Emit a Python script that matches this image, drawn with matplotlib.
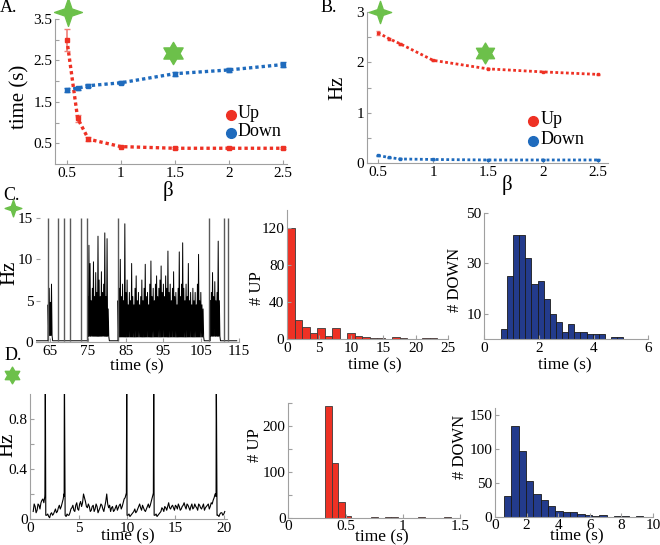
import numpy as np
import matplotlib
matplotlib.use('Agg')
import matplotlib.pyplot as plt
from matplotlib.path import Path
from matplotlib.lines import Line2D

plt.rcParams['font.family'] = ['Liberation Serif', 'DejaVu Serif']

# ---------------- data ----------------
beta = [0.5, 0.6, 0.7, 1.0, 1.5, 2.0, 2.5]
dur_up = [3.0, 1.1, 0.6, 0.42, 0.38, 0.38, 0.38]
dur_up_err = [0.27, 0.08, 0.04, 0.02, 0.02, 0.02, 0.02]
dur_down = [1.79, 1.83, 1.89, 1.96, 2.18, 2.27, 2.40]
dur_down_err = [0.04, 0.04, 0.04, 0.04, 0.05, 0.05, 0.06]

rate_up = [2.59, 2.47, 2.37, 2.04, 1.87, 1.81, 1.76]
rate_up_err = [0.04, 0.02, 0.02, 0.01, 0.01, 0.01, 0.01]
rate_down = [0.15, 0.11, 0.08, 0.07, 0.06, 0.06, 0.06]
rate_down_err = [0.01, 0.01, 0.01, 0.01, 0.01, 0.01, 0.01]

legend_labels = ['Up', 'Down']

# C: firing-rate trace (beta = 0.5)
c_baseline = 0.15
c_transient_t = [64.4, 67.2, 68.8, 70.3, 73.2, 74.7, 82.9, 107.1, 110.9, 112.1]
c_seg_start = [64.5, 75.0, 83.0, 107.4]
c_seg_floor = [0.8, 0.7, 0.6, 0.7]
c_step = 0.3
c_seg_peaks = [
    [4.5, 6.5, 4.8, 7.0],
    [5.5, 11.7, 9.5, 5.0, 6.5, 9.7, 5.5, 8.4, 6.0, 12.8, 7.5, 5.5, 8.5, 6.0,
     7.0, 13.2, 5.5, 12.5, 4.0],
    [5.0, 6.5, 10.0, 5.5, 7.0, 5.0, 14.3, 6.0, 7.5, 4.5, 6.0, 5.0, 9.5, 5.5,
     4.5, 6.5, 8.0, 5.0, 6.0, 4.5, 5.5, 7.5, 5.0, 6.5, 9.4, 5.5, 6.0, 4.5,
     7.0, 9.8, 5.5, 6.5, 5.0, 7.0, 8.0, 5.5, 6.5, 7.5, 9.2, 6.0, 7.0, 5.5,
     8.0, 6.5, 11.0, 6.0, 7.0, 5.0, 6.5, 8.5, 5.5, 6.0, 4.5, 6.5, 10.9, 5.5,
     7.0, 12.0, 6.5, 5.0, 7.0, 5.5, 9.5, 5.0, 6.0, 4.5, 6.5, 5.0, 6.0, 4.5,
     7.0, 10.6, 5.0, 6.0, 4.5, 4.0],
    [5.0, 6.0, 8.4, 5.5, 7.3, 5.0, 6.0, 12.2, 5.0],
]
c_xticks = [65, 75, 85, 95, 105, 115]

# C: histograms
c_up_bin0, c_up_binw = 0.0, 1.17
c_up_counts = [120, 21, 13, 7, 12, 4, 12, 0, 7, 4, 2, 1, 1, 0, 2, 1, 0, 0, 1, 1]
c_dn_bin0, c_dn_binw = 0.6, 0.2245
c_dn_counts = [4, 25, 41, 41, 32, 22, 23, 16, 10, 7, 3, 6, 3, 3, 2, 2, 2, 0, 1, 1]

# D: firing-rate trace (beta = 1.5), samples every 0.2 s plus in-between samples
d_t0, d_dt = 0.3, 0.2
d_vals = [0.06, 0.10, 0.07, 0.11, 0.13, 0.16, 0.18, 0.03, 0.02, 0.04,
          0.03, 0.06, 0.05, 0.09, 0.08, 0.13, 0.18, 0.02, 0.03, 0.05,
          0.09, 0.07, 0.11, 0.08, 0.12, 0.10, 0.20, 0.14, 0.09, 0.10,
          0.07, 0.11, 0.08, 0.10, 0.07, 0.12, 0.08, 0.10, 0.20, 0.09,
          0.06, 0.10, 0.07, 0.11, 0.09, 0.12, 0.10, 0.16, 0.20, 0.03,
          0.02, 0.04, 0.06, 0.05, 0.08, 0.12, 0.07, 0.09, 0.06, 0.10,
          0.09, 0.14, 0.20, 0.03, 0.02, 0.04, 0.06, 0.08, 0.10, 0.07,
          0.13, 0.08, 0.11, 0.07, 0.10, 0.12, 0.07, 0.10, 0.13, 0.08,
          0.11, 0.07, 0.12, 0.09, 0.10, 0.07, 0.11, 0.08, 0.12, 0.09,
          0.11, 0.08, 0.13, 0.15, 0.20, 0.03, 0.02, 0.05, 0.03, 0.06]
d_vals_mid = [0.12, 0.05, 0.12, 0.08, 0.15, 0.13, 0.03, 0.04, 0.01, 0.05,
              0.04, 0.08, 0.06, 0.11, 0.10, 0.16, 0.03, 0.04, 0.03, 0.08,
              0.11, 0.06, 0.13, 0.07, 0.14, 0.13, 0.17, 0.10, 0.12, 0.06,
              0.10, 0.06, 0.12, 0.05, 0.09, 0.11, 0.06, 0.14, 0.12, 0.11,
              0.09, 0.06, 0.09, 0.07, 0.11, 0.08, 0.13, 0.17, 0.03, 0.04,
              0.03, 0.05, 0.08, 0.06, 0.10, 0.09, 0.11, 0.07, 0.08, 0.12,
              0.11, 0.17, 0.03, 0.04, 0.03, 0.05, 0.09, 0.06, 0.09, 0.10,
              0.09, 0.10, 0.09, 0.11, 0.08, 0.10, 0.08, 0.11, 0.10, 0.12,
              0.09, 0.10, 0.08, 0.12, 0.09, 0.12, 0.09, 0.10, 0.07, 0.10,
              0.12, 0.10, 0.12, 0.17, 0.18, 0.03, 0.04, 0.05, 0.04]
d_spike_t = [1.55, 3.52, 9.97, 12.76, 19.22]

# D: histograms
d_up_bin0, d_up_binw = 0.32, 0.058
d_up_counts = [242, 118, 35, 4, 0, 0, 0, 1, 0, 1, 2, 0, 0, 0, 1, 0, 0, 0, 1, 0]
d_dn_bin0, d_dn_binw = 0.57, 0.464
d_dn_counts = [31, 134, 96, 53, 33, 25, 16, 8, 7, 7, 4, 2, 1, 2, 0, 1, 1, 0, 1, 0]

# ---------------- style ----------------
RED = '#ee3124'
RED_ERR = '#f07f78'
BLUE = '#1f6bbd'
NAVY = '#233b8c'
GREEN = '#6cc04a'
SPINE = '#a0a0a0'
TICKFS = 11

W, H = 660, 545
fig = plt.figure(figsize=(6.6, 5.45), dpi=100)


def rect(l, t, r, b):
    return [l / W, 1 - b / H, (r - l) / W, (b - t) / H]


def fp(x, y):
    return x / W, 1 - y / H


def style(ax, left=True, bottom=True):
    for s in ['top', 'right']:
        ax.spines[s].set_visible(False)
    ax.spines['left'].set_visible(left)
    ax.spines['bottom'].set_visible(bottom)
    for s in ['left', 'bottom']:
        ax.spines[s].set_color(SPINE)
        ax.spines[s].set_linewidth(0.8)
    ax.tick_params(direction='in', length=3, width=0.8, color=SPINE,
                   labelsize=TICKFS, pad=2)
    ax.patch.set_alpha(0)


def ftext(x, y, s, size, rot=0, ha='center', va='center'):
    fig.text(*fp(x, y), s, fontsize=size, rotation=rot, ha=ha, va=va)


def fmarker(x, y, marker, ms, color):
    fig.add_artist(Line2D([fp(x, y)[0]], [fp(x, y)[1]], transform=fig.transFigure,
                          marker=marker, ms=ms, color=color, mec=color, ls='none',
                          zorder=10))


star4 = Path.unit_regular_star(4, 0.36)
star6 = Path.unit_regular_star(6, 0.58)

# ---------------- panel A ----------------
axA = fig.add_axes(rect(55, 19, 287, 164))
style(axA)
axA.errorbar(beta, dur_up, yerr=dur_up_err, color=RED, ls=(0, (1, 0.9)), lw=2.4,
             marker='s', ms=2.5, ecolor=RED_ERR, elinewidth=1.2, capsize=2)
axA.errorbar(beta, dur_down, yerr=dur_down_err, color=BLUE, ls=(0, (1, 0.9)), lw=2.4,
             marker='s', ms=2.5, ecolor=BLUE, elinewidth=1.2, capsize=2)
axA.set_xlim(0.39, 2.54)
axA.set_ylim(0, 3.5)
axA.set_xticks([0.5, 1, 1.5, 2, 2.5], ['0.5', '1', '1.5', '2', '2.5'])
axA.set_yticks([0.5, 1, 1.5, 2, 2.5, 3, 3.5], ['0.5', '', '1.5', '', '2.5', '', '3.5'])
ftext(20, 97, 'time (s)', 15, rot=90)
ftext(168, 191, 'β', 15)
ftext(0, 8, 'A.', 13, ha='left')
fmarker(68, 12, star4, 20, GREEN)
fmarker(173, 53, star6, 16, GREEN)
fmarker(231, 115, 'o', 7, RED)
fmarker(231, 133, 'o', 7, BLUE)
ftext(238, 114, legend_labels[0], 13, ha='left')
ftext(238, 132, legend_labels[1], 13, ha='left')

# ---------------- panel B ----------------
axB = fig.add_axes(rect(367, 12, 608, 163))
style(axB)
axB.errorbar(beta, rate_up, yerr=rate_up_err, color=RED, ls=(0, (1, 0.9)), lw=2.0,
             marker='s', ms=2, ecolor=RED_ERR, elinewidth=1.0, capsize=1.5)
axB.errorbar(beta, rate_down, yerr=rate_down_err, color=BLUE, ls=(0, (1, 0.9)), lw=2.0,
             marker='s', ms=2, ecolor=BLUE, elinewidth=1.0, capsize=1.5)
axB.set_xlim(0.4, 2.59)
axB.set_ylim(0, 3)
axB.set_xticks([0.5, 1, 1.5, 2, 2.5], ['0.5', '1', '1.5', '2', '2.5'])
axB.set_yticks([0, 0.5, 1, 1.5, 2, 2.5, 3], ['0', '', '1', '', '2', '', '3'])
ftext(338, 88, 'Hz', 15, rot=90)
ftext(507, 185, 'β', 15)
ftext(321, 8, 'B.', 13, ha='left')
fmarker(380, 12, star4, 16, GREEN)
fmarker(485, 53, star6, 15, GREEN)
fmarker(533, 121, 'o', 7, RED)
fmarker(533, 141, 'o', 7, BLUE)
ftext(541, 120, legend_labels[0], 13, ha='left')
ftext(541, 140, legend_labels[1], 13, ha='left')

# ---------------- panel C trace ----------------
axC = fig.add_axes(rect(36, 218, 239, 342))
style(axC, left=False)
pts = [(61.4, c_baseline), (114.4, c_baseline)]
for s, pk, fl in zip(c_seg_start, c_seg_peaks, c_seg_floor):
    pts.append((s - 0.02, c_baseline))
    for k, p in enumerate(pk):
        t = s + k * c_step
        pts.append((t, p))
        pts.append((t + c_step / 2, fl))
    pts.append((s + len(pk) * c_step, c_baseline))
pts.sort(key=lambda q: q[0])
ct, cy = zip(*pts)
axC.plot(ct, cy, color='black', lw=0.7)
axC.vlines(c_transient_t, c_baseline, 15, color='#5a5a5a', lw=1.0)
axC.set_xlim(61.3, 115)
axC.set_ylim(0, 15)
axC.set_xticks(c_xticks)
axC.set_yticks([0, 5, 10, 15])
ftext(10, 273, 'Hz', 15, rot=90)
ftext(137, 366, 'time (s)', 12.5)
ftext(3, 195, 'C.', 13, ha='left')
fmarker(13, 208, star4, 12, GREEN)

# ---------------- panel C UP hist ----------------
axCu = fig.add_axes(rect(287, 209.8, 447.7, 339.3))
style(axCu)
xs = [c_up_bin0 + i * c_up_binw for i in range(len(c_up_counts))]
axCu.bar(xs, c_up_counts, width=c_up_binw, align='edge', color=RED,
         edgecolor='#3a3a3a', lw=0.6)
axCu.set_xlim(0, 25)
axCu.set_ylim(0, 140)
axCu.set_xticks([0, 5, 10, 15, 20, 25])
axCu.set_yticks([0, 40, 80, 120])
ftext(257, 288, '# UP', 12, rot=90)
ftext(375, 365, 'time (s)', 12.5)

# ---------------- panel C DOWN hist ----------------
axCd = fig.add_axes(rect(484.3, 212.7, 648.3, 339.3))
style(axCd)
xs = [c_dn_bin0 + i * c_dn_binw for i in range(len(c_dn_counts))]
axCd.bar(xs, c_dn_counts, width=c_dn_binw, align='edge', color=NAVY,
         edgecolor='#1a1a1a', lw=0.6)
axCd.set_xlim(0, 6)
axCd.set_ylim(0, 50)
axCd.set_xticks([0, 2, 4, 6])
axCd.set_yticks([10, 30, 50])
ftext(455, 280, '# DOWN', 12, rot=90)
ftext(565, 365, 'time (s)', 12.5)

# ---------------- panel D trace ----------------
axD = fig.add_axes(rect(30.3, 394, 226.7, 519))
style(axD)
dpts = [(d_t0 + i * d_dt, v) for i, v in enumerate(d_vals)]
dpts += [(d_t0 + (i + 0.5) * d_dt, v) for i, v in enumerate(d_vals_mid)]
for ts in d_spike_t:
    dpts += [(ts - 0.04, 0.2), (ts, 1.3), (ts + 0.08, 0.03)]
dpts.sort(key=lambda q: q[0])
dt_, dy_ = zip(*dpts)
axD.plot(dt_, dy_, color='black', lw=0.8)
axD.set_xlim(0, 20.3)
axD.set_ylim(0, 1.0)
axD.set_xticks([0, 5, 10, 15, 20])
axD.set_yticks([0, 0.2, 0.4, 0.6, 0.8], ['0', '', '0.4', '', '0.8'])
ftext(8, 445, 'Hz', 15, rot=90)
ftext(128, 536, 'time (s)', 12.5)
ftext(5, 355, 'D.', 13, ha='left')
fmarker(12, 375, star6, 12, GREEN)

# ---------------- panel D UP hist ----------------
axDu = fig.add_axes(rect(288.3, 402.7, 460, 517.7))
style(axDu)
xs = [d_up_bin0 + i * d_up_binw for i in range(len(d_up_counts))]
axDu.bar(xs, d_up_counts, width=d_up_binw, align='edge', color=RED,
         edgecolor='#3a3a3a', lw=0.6)
axDu.set_xlim(0, 1.5)
axDu.set_ylim(0, 250)
axDu.set_xticks([0, 0.5, 1, 1.5], ['0', '0.5', '1', '1.5'])
axDu.set_yticks([0, 50, 100, 150, 200, 250], ['0', '', '100', '', '200', ''])
ftext(255, 445, '# UP', 12, rot=90)
ftext(382, 537, 'time (s)', 12.5)

# ---------------- panel D DOWN hist ----------------
axDd = fig.add_axes(rect(495, 408, 653, 516.7))
style(axDd)
xs = [d_dn_bin0 + i * d_dn_binw for i in range(len(d_dn_counts))]
axDd.bar(xs, d_dn_counts, width=d_dn_binw, align='edge', color=NAVY,
         edgecolor='#1a1a1a', lw=0.6)
axDd.set_xlim(0, 10)
axDd.set_ylim(0, 160)
axDd.set_xticks([0, 2, 4, 6, 8, 10])
axDd.set_yticks([0, 50, 100, 150])
ftext(460, 447, '# DOWN', 12, rot=90)
ftext(577, 536, 'time (s)', 12.5)

fig.savefig('out.png', dpi=100)
